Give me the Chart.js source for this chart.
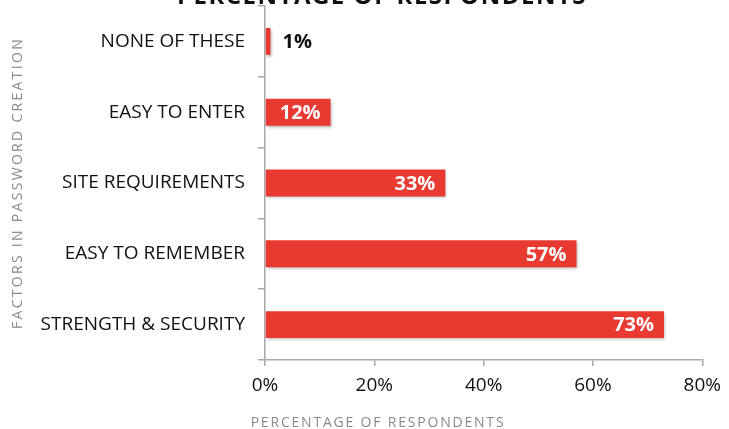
<!DOCTYPE html>
<html>
<head>
<meta charset="utf-8">
<script src="https://cdn.jsdelivr.net/npm/chart.js@4"></script>
<style>
  html, body { margin: 0; padding: 0; background: #fff; overflow: hidden; }
  #wrap { position: relative; width: 729px; height: 429px; }
</style>
</head>
<body>
<div id="wrap"><canvas id="chart"></canvas></div>
<script>
'use strict';

const CATEGORIES = ['NONE OF THESE', 'EASY TO ENTER', 'SITE REQUIREMENTS', 'EASY TO REMEMBER', 'STRENGTH & SECURITY'];
const VALUES = [1, 12, 33, 57, 73];
const X_TICKS = [0, 20, 40, 60, 80];
const TITLE = 'PERCENTAGE OF RESPONDENTS';
const X_TITLE = 'PERCENTAGE OF RESPONDENTS';
const Y_TITLE = 'FACTORS IN PASSWORD CREATION';

const BAR_COLOR = '#e83a31';
const AXIS_COLOR = '#a8a8a8';
const FONT = '"Open Sans", Lato, sans-serif';

// bar shadow
const shadowPlugin = {
  id: 'barShadow',
  beforeDatasetDraw(chart) {
    const ctx = chart.ctx;
    ctx.save();
    ctx.shadowColor = 'rgba(0,0,0,0.28)';
    ctx.shadowBlur = 3;
    ctx.shadowOffsetX = 1;
    ctx.shadowOffsetY = 2;
  },
  afterDatasetDraw(chart) {
    chart.ctx.restore();
  }
};

// value labels + titles
const labelPlugin = {
  id: 'labels',
  afterDraw(chart) {
    const ctx = chart.ctx;
    const meta = chart.getDatasetMeta(0);
    ctx.save();
    ctx.font = `bold 20px ${FONT}`;
    ctx.textBaseline = 'middle';
    meta.data.forEach((bar, i) => {
      const text = VALUES[i] + '%';
      const w = bar.x - bar.base;
      if (w < 40) {
        ctx.fillStyle = '#111';
        ctx.textAlign = 'left';
        ctx.fillText(text, bar.x + 12, bar.y + 1);
      } else {
        ctx.fillStyle = '#fff';
        ctx.textAlign = 'right';
        ctx.fillText(text, bar.x - 10, bar.y + 1);
      }
    });

    // chart title, mostly cut off at the top
    ctx.fillStyle = '#111';
    ctx.textAlign = 'center';
    ctx.textBaseline = 'alphabetic';
    ctx.font = `bold 24px ${FONT}`;
    ctx.letterSpacing = '1.5px';
    ctx.fillText(TITLE, 382, 4);

    // axis titles
    ctx.fillStyle = '#8a8a8a';
    ctx.font = `14px ${FONT}`;
    ctx.letterSpacing = '1.8px';
    ctx.textBaseline = 'middle';
    ctx.fillText(X_TITLE, 378, 423);

    ctx.translate(18, 183);
    ctx.rotate(-Math.PI / 2);
    ctx.letterSpacing = '2.3px';
    ctx.fillText(Y_TITLE, 0, 0);
    ctx.restore();
  }
};

new Chart(document.getElementById('chart'), {
  type: 'bar',
  data: {
    labels: CATEGORIES,
    datasets: [{
      data: VALUES,
      backgroundColor: BAR_COLOR,
      borderWidth: 0,
      barPercentage: 0.38,
      categoryPercentage: 1
    }]
  },
  plugins: [shadowPlugin, labelPlugin],
  options: {
    indexAxis: 'y',
    responsive: true,
    maintainAspectRatio: false,
    animation: false,
    layout: { padding: { top: 6, right: 21, left: 0, bottom: 0 } },
    plugins: {
      legend: { display: false },
      tooltip: { enabled: false },
      title: { display: false }
    },
    scales: {
      x: {
        min: 0,
        max: 80,
        afterBuildTicks: scale => { scale.ticks = X_TICKS.map(v => ({ value: v })); },
        afterFit: scale => { scale.height = 69; },
        border: { color: AXIS_COLOR, width: 1.5 },
        grid: { drawOnChartArea: false, drawTicks: true, tickLength: 6, color: AXIS_COLOR, lineWidth: 1.5 },
        ticks: {
          padding: 8,
          color: '#111',
          font: { family: FONT, size: 19 },
          callback: v => v + '%'
        }
      },
      y: {
        afterFit: scale => {
          scale.width = 265;
          scale.paddingTop = 0;
          scale.paddingBottom = 0;
        },
        border: { color: AXIS_COLOR, width: 1.5 },
        grid: { drawOnChartArea: false, offset: true, tickLength: 7, color: AXIS_COLOR, lineWidth: 1.5 },
        ticks: {
          padding: 13,
          color: '#111',
          font: { family: FONT, size: 19 }
        }
      }
    }
  }
});
</script>
</body>
</html>
